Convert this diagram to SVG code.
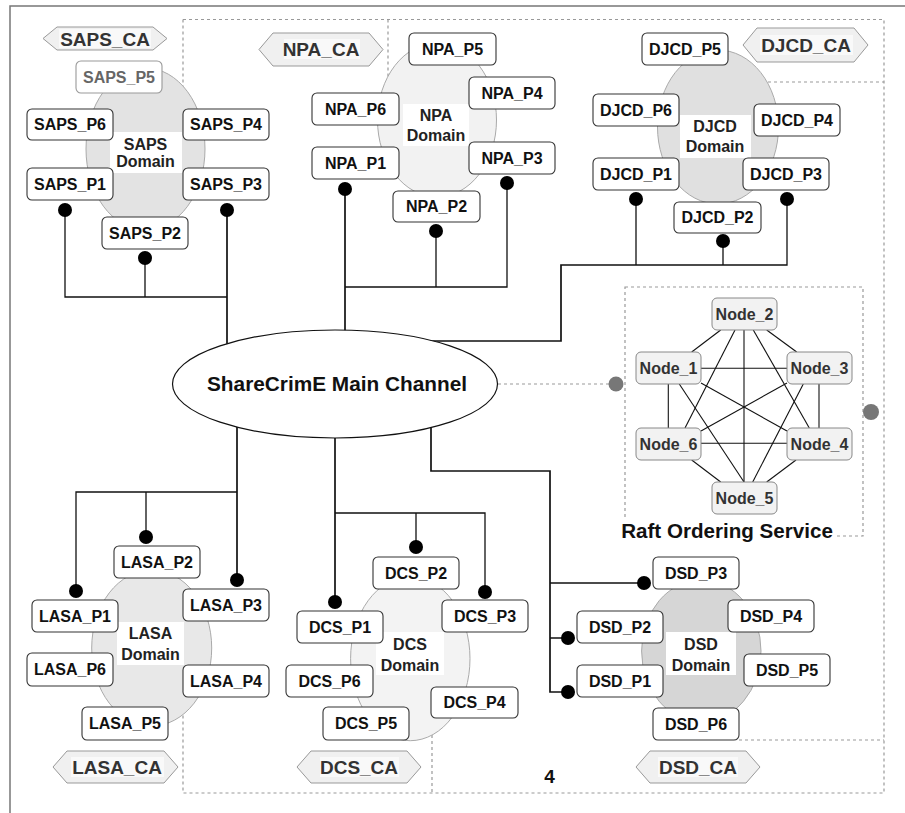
<svg xmlns="http://www.w3.org/2000/svg" width="905" height="813" viewBox="0 0 905 813">
  <defs>
    <style>
      text { font-family: "Liberation Sans", Arial, sans-serif; font-weight: bold; text-anchor: middle; }
      .frame { fill: none; stroke: #777; stroke-width: 1.5; }
      .zone { fill: none; stroke: #999; stroke-width: 1.2; stroke-dasharray: 3 3; }
      .peer rect { fill: #fff; stroke: #333; stroke-width: 1.1; }
      .peer text { font-size: 16px; fill: #111; }
      .peer.dim rect { stroke: #999; }
      .peer.dim text { fill: #666; }
      .domain ellipse { stroke: #aaa; stroke-width: 1; }
      .domain rect { fill: #fff; }
      .domain text { font-size: 16px; fill: #222; }
      .ca polygon { fill: #f0f0f0; stroke: #999; stroke-width: 1; }
      .ca rect { fill: #f9f9f9; }
      .ca text { font-size: 19px; fill: #333; }
      .wire { fill: none; stroke: #111; stroke-width: 1.3; }
      .wire.main { stroke-width: 1.7; }
      .dot { fill: #000; }
      .raftnode rect { fill: #f2f2f2; stroke: #888; stroke-width: 1; }
      .raftnode text { font-size: 16px; fill: #333; }
      .mesh { stroke: #111; stroke-width: 1.1; fill: none; }
    </style>
  </defs>

  <rect width="905" height="813" fill="#fff"/>

  <!-- outer frame -->
  <path class="frame" d="M10,813 V6 H905"/>

  <!-- organisation zones (dashed) -->
  <g id="zones">
    <path class="zone" d="M183,19.5 H884 V793 H183 V700"/>
    <path class="zone" d="M183,19.5 V100"/>
    <path class="zone" d="M388,19.5 V90"/>
    <path class="zone" d="M750,82 H884"/>
    <path class="zone" d="M739,740 H884"/>
    <path class="zone" d="M432,735 V793"/>
  </g>

  <!-- domain ellipses -->
  <g id="domain-SAPS" class="domain">
    <ellipse cx="145.5" cy="149" rx="59.5" ry="81" fill="#e3e3e3"/>
  </g>
  <g id="domain-NPA" class="domain">
    <ellipse cx="437" cy="120" rx="59.5" ry="77" fill="#f2f2f2"/>
  </g>
  <g id="domain-DJCD" class="domain">
    <ellipse cx="718" cy="127" rx="60.5" ry="77" fill="#e0e0e0"/>
  </g>
  <g id="domain-LASA" class="domain">
    <ellipse cx="151.7" cy="648" rx="60" ry="78" fill="#e8e8e8"/>
  </g>
  <g id="domain-DCS" class="domain">
    <ellipse cx="410.3" cy="658.7" rx="59.7" ry="82" fill="#f3f3f3"/>
  </g>
  <g id="domain-DSD" class="domain">
    <ellipse cx="701.3" cy="651" rx="59.7" ry="71" fill="#d6d6d6"/>
  </g>

  <!-- domain labels -->
  <g class="domain">
    <rect x="110" y="132" width="72" height="41"/>
    <text x="145.5" y="150">SAPS</text><text x="145.5" y="167">Domain</text>
    <rect x="403" y="104" width="66" height="42"/>
    <text x="436" y="121">NPA</text><text x="436" y="141">Domain</text>
    <rect x="680" y="115" width="71" height="43"/>
    <text x="715" y="132">DJCD</text><text x="715" y="152">Domain</text>
    <rect x="117" y="622" width="67" height="43"/>
    <text x="150.5" y="638.5">LASA</text><text x="150.5" y="660">Domain</text>
    <rect x="376" y="632" width="68" height="43"/>
    <text x="410" y="649.5">DCS</text><text x="410" y="671">Domain</text>
    <rect x="666" y="632" width="70" height="43"/>
    <text x="701" y="649.5">DSD</text><text x="701" y="671">Domain</text>
  </g>

  <!-- certificate authorities -->
  <g id="SAPS_CA" class="ca">
    <polygon points="43,38.5 57,27 153,27 167,38.5 153,50 57,50"/>
    <rect x="59" y="29" width="92" height="19"/>
    <text x="105" y="45.5">SAPS_CA</text>
  </g>
  <g id="NPA_CA" class="ca">
    <polygon points="259,49.5 273,33 369,33 383,49.5 369,66 273,66"/>
    <rect x="284" y="39" width="76" height="20"/>
    <text x="321" y="56">NPA_CA</text>
  </g>
  <g id="DJCD_CA" class="ca">
    <polygon points="743,45 757,28 854,28 868,45 854,62 757,62"/>
    <rect x="760" y="35" width="93" height="20"/>
    <text x="806" y="52">DJCD_CA</text>
  </g>
  <g id="LASA_CA" class="ca">
    <polygon points="53,767 67,751 164,751 178,767 164,783 67,783"/>
    <rect x="71" y="757" width="93" height="20"/>
    <text x="117" y="774">LASA_CA</text>
  </g>
  <g id="DCS_CA" class="ca">
    <polygon points="297,767 311,751 407,751 421,767 407,783 311,783"/>
    <rect x="320" y="757" width="79" height="20"/>
    <text x="359" y="774">DCS_CA</text>
  </g>
  <g id="DSD_CA" class="ca">
    <polygon points="636,767 650,751 746,751 760,767 746,783 650,783"/>
    <rect x="658" y="757" width="80" height="20"/>
    <text x="698" y="774">DSD_CA</text>
  </g>

  <!-- channel connectors -->
  <g id="connectors">
    <path class="wire" d="M65,210 V297 H227 M145,258 V297"/>
    <path class="wire main" d="M227,210 V384"/>
    <path class="wire" d="M345,287 H507 V183 M436,231 V287"/>
    <path class="wire main" d="M345,189 V384"/>
    <path class="wire" d="M636,199 V265 M723,241 V265 M787,199 V265 H636"/>
    <path class="wire main" d="M636,265 H561 V341 H420"/>
    <path class="wire main" d="M237,384 V580"/>
    <path class="wire" d="M76,591 V492 H237 M146,537 V492"/>
    <path class="wire main" d="M335,384 V602"/>
    <path class="wire" d="M335,513 H485 V592 M416,547 V513"/>
    <path class="wire main" d="M431,384 V471 H550 V692 H568"/>
    <path class="wire" d="M550,583 H644 M550,638 H568"/>
    <path d="M498,384 H616" fill="none" stroke="#999" stroke-width="1.2" stroke-dasharray="3 3"/>
  </g>

  <!-- main channel -->
  <g id="main-channel">
    <ellipse cx="335" cy="384" rx="162.5" ry="54" fill="#fff" stroke="#111" stroke-width="1.2"/>
    <text x="337" y="391" font-size="20.8" fill="#111">ShareCrimE Main Channel</text>
  </g>

  <!-- peers -->
  <g id="SAPS_P5" class="peer dim"><rect x="76" y="61" width="86" height="32" rx="5"/><text x="119" y="82.5">SAPS_P5</text></g>
  <g id="SAPS_P6" class="peer"><rect x="27" y="109" width="86" height="31" rx="5"/><text x="70" y="130">SAPS_P6</text></g>
  <g id="SAPS_P4" class="peer"><rect x="183" y="109" width="86" height="31" rx="5"/><text x="226" y="130">SAPS_P4</text></g>
  <g id="SAPS_P1" class="peer"><rect x="27" y="168" width="86" height="32" rx="5"/><text x="70" y="189.5">SAPS_P1</text></g>
  <g id="SAPS_P3" class="peer"><rect x="183" y="168" width="86" height="32" rx="5"/><text x="226" y="189.5">SAPS_P3</text></g>
  <g id="SAPS_P2" class="peer"><rect x="102" y="217" width="86" height="32" rx="5"/><text x="145" y="238.5">SAPS_P2</text></g>

  <g id="NPA_P5" class="peer"><rect x="409" y="33" width="87" height="32" rx="5"/><text x="452.5" y="54.5">NPA_P5</text></g>
  <g id="NPA_P4" class="peer"><rect x="469" y="77" width="86" height="32" rx="5"/><text x="512" y="98.5">NPA_P4</text></g>
  <g id="NPA_P6" class="peer"><rect x="312" y="93" width="87" height="32" rx="5"/><text x="355.5" y="114.5">NPA_P6</text></g>
  <g id="NPA_P1" class="peer"><rect x="312" y="147" width="87" height="32" rx="5"/><text x="355.5" y="168.5">NPA_P1</text></g>
  <g id="NPA_P3" class="peer"><rect x="469" y="142" width="86" height="32" rx="5"/><text x="512" y="163.5">NPA_P3</text></g>
  <g id="NPA_P2" class="peer"><rect x="393" y="191" width="87" height="31" rx="5"/><text x="436.5" y="212">NPA_P2</text></g>

  <g id="DJCD_P5" class="peer"><rect x="642" y="33" width="86" height="32" rx="5"/><text x="685" y="54.5">DJCD_P5</text></g>
  <g id="DJCD_P6" class="peer"><rect x="593" y="94" width="86" height="32" rx="5"/><text x="636" y="115.5">DJCD_P6</text></g>
  <g id="DJCD_P4" class="peer"><rect x="754" y="104" width="86" height="32" rx="5"/><text x="797" y="125.5">DJCD_P4</text></g>
  <g id="DJCD_P1" class="peer"><rect x="593" y="158" width="86" height="32" rx="5"/><text x="636" y="179.5">DJCD_P1</text></g>
  <g id="DJCD_P3" class="peer"><rect x="743" y="158" width="86" height="32" rx="5"/><text x="786" y="179.5">DJCD_P3</text></g>
  <g id="DJCD_P2" class="peer"><rect x="674" y="202" width="87" height="31" rx="5"/><text x="717.5" y="223">DJCD_P2</text></g>

  <g id="LASA_P2" class="peer"><rect x="114" y="546" width="86" height="32" rx="5"/><text x="157" y="567.5">LASA_P2</text></g>
  <g id="LASA_P1" class="peer"><rect x="32" y="600" width="86" height="32" rx="5"/><text x="75" y="621.5">LASA_P1</text></g>
  <g id="LASA_P3" class="peer"><rect x="183" y="589" width="86" height="32" rx="5"/><text x="226" y="610.5">LASA_P3</text></g>
  <g id="LASA_P6" class="peer"><rect x="27" y="653" width="86" height="33" rx="5"/><text x="70" y="675">LASA_P6</text></g>
  <g id="LASA_P4" class="peer"><rect x="183" y="665" width="86" height="32" rx="5"/><text x="226" y="686.5">LASA_P4</text></g>
  <g id="LASA_P5" class="peer"><rect x="82" y="707" width="86" height="33" rx="5"/><text x="125" y="729">LASA_P5</text></g>

  <g id="DCS_P2" class="peer"><rect x="373" y="557" width="86" height="32" rx="5"/><text x="416" y="578.5">DCS_P2</text></g>
  <g id="DCS_P3" class="peer"><rect x="442" y="600" width="86" height="32" rx="5"/><text x="485" y="621.5">DCS_P3</text></g>
  <g id="DCS_P1" class="peer"><rect x="297" y="611" width="86" height="32" rx="5"/><text x="340" y="632.5">DCS_P1</text></g>
  <g id="DCS_P6" class="peer"><rect x="286" y="665" width="87" height="32" rx="5"/><text x="329.5" y="686.5">DCS_P6</text></g>
  <g id="DCS_P4" class="peer"><rect x="431" y="687" width="87" height="31" rx="5"/><text x="474.5" y="708">DCS_P4</text></g>
  <g id="DCS_P5" class="peer"><rect x="323" y="707" width="86" height="33" rx="5"/><text x="366" y="729">DCS_P5</text></g>

  <g id="DSD_P3" class="peer"><rect x="653" y="557" width="86" height="32" rx="5"/><text x="696" y="578.5">DSD_P3</text></g>
  <g id="DSD_P2" class="peer"><rect x="577" y="611" width="86" height="32" rx="5"/><text x="620" y="632.5">DSD_P2</text></g>
  <g id="DSD_P1" class="peer"><rect x="577" y="665" width="86" height="32" rx="5"/><text x="620" y="686.5">DSD_P1</text></g>
  <g id="DSD_P4" class="peer"><rect x="728" y="600" width="86" height="32" rx="5"/><text x="771" y="621.5">DSD_P4</text></g>
  <g id="DSD_P5" class="peer"><rect x="744" y="654" width="86" height="32" rx="5"/><text x="787" y="675.5">DSD_P5</text></g>
  <g id="DSD_P6" class="peer"><rect x="653" y="708" width="86" height="32" rx="5"/><text x="696" y="729.5">DSD_P6</text></g>

  <!-- anchor points of peers on the channel -->
  <g id="anchors">
    <circle class="dot" cx="65" cy="210" r="7"/>
    <circle class="dot" cx="227" cy="210" r="7"/>
    <circle class="dot" cx="145" cy="258" r="7"/>
    <circle class="dot" cx="345" cy="189" r="7"/>
    <circle class="dot" cx="507" cy="183" r="7"/>
    <circle class="dot" cx="436" cy="231" r="7"/>
    <circle class="dot" cx="636" cy="199" r="7"/>
    <circle class="dot" cx="787" cy="199" r="7"/>
    <circle class="dot" cx="723" cy="241" r="7"/>
    <circle class="dot" cx="76" cy="591" r="7"/>
    <circle class="dot" cx="146" cy="537" r="7"/>
    <circle class="dot" cx="237" cy="580" r="7"/>
    <circle class="dot" cx="335" cy="602" r="7"/>
    <circle class="dot" cx="416" cy="547" r="7"/>
    <circle class="dot" cx="485" cy="592" r="7"/>
    <circle class="dot" cx="644" cy="583" r="7"/>
    <circle class="dot" cx="568" cy="638" r="7"/>
    <circle class="dot" cx="568" cy="692" r="7"/>
  </g>

  <!-- raft ordering service -->
  <g id="raft-ordering-service">
    <rect x="625" y="287" width="238" height="249" class="zone"/>
    <g class="mesh">
      <line x1="720.7" y1="330" x2="691.7" y2="352"/>
      <line x1="766.7" y1="330" x2="796.7" y2="352"/>
      <line x1="701" y1="368.3" x2="787" y2="368.3"/>
      <line x1="668.3" y1="384" x2="668.3" y2="428"/>
      <line x1="819" y1="384" x2="819" y2="428"/>
      <line x1="701" y1="443.3" x2="787" y2="443.3"/>
      <line x1="691.7" y1="460" x2="720.7" y2="482"/>
      <line x1="796" y1="460" x2="766.7" y2="482"/>
      <line x1="744" y1="330" x2="744" y2="482"/>
      <line x1="735" y1="330" x2="685" y2="428"/>
      <line x1="753.3" y1="330" x2="809.3" y2="428"/>
      <line x1="679.3" y1="384" x2="744" y2="482"/>
      <line x1="803.3" y1="384" x2="752.7" y2="482"/>
      <line x1="701" y1="383" x2="787" y2="431"/>
      <line x1="787" y1="383" x2="701" y2="431"/>
    </g>
    <g id="Node_2" class="raftnode"><rect x="712" y="298" width="65" height="32" rx="5"/><text x="744.5" y="319.5">Node_2</text></g>
    <g id="Node_1" class="raftnode"><rect x="636" y="352" width="65" height="32" rx="5"/><text x="668.5" y="373.5">Node_1</text></g>
    <g id="Node_3" class="raftnode"><rect x="787" y="352" width="65" height="32" rx="5"/><text x="819.5" y="373.5">Node_3</text></g>
    <g id="Node_6" class="raftnode"><rect x="636" y="428" width="65" height="32" rx="5"/><text x="668.5" y="449.5">Node_6</text></g>
    <g id="Node_4" class="raftnode"><rect x="787" y="428" width="65" height="32" rx="5"/><text x="819.5" y="449.5">Node_4</text></g>
    <g id="Node_5" class="raftnode"><rect x="712" y="482" width="65" height="32" rx="5"/><text x="744.5" y="503.5">Node_5</text></g>
    <rect x="619" y="518" width="216" height="25" fill="#fff"/>
    <text x="727" y="538" font-size="20.6" fill="#111">Raft Ordering Service</text>
    <circle cx="616" cy="384" r="7.5" fill="#777"/>
    <circle cx="871" cy="412" r="8" fill="#777"/>
  </g>

  <text x="549.5" y="783" font-size="19" fill="#111">4</text>
</svg>
